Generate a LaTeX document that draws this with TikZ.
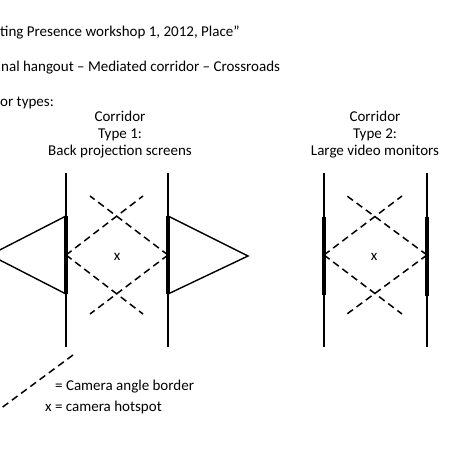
\documentclass[tikz,border=0pt]{standalone}
\usepackage{fontspec}
\setmainfont{Carlito}
\begin{document}
\begin{tikzpicture}[x=1pt,y=-1pt,
  txt/.style={inner sep=0pt,font=\fontsize{15}{17}\selectfont},
  wall/.style={line width=1.4pt},
  screen/.style={line width=3.6pt},
  cam/.style={line width=1.5pt,dash pattern=on 7pt off 4.5pt},
  proj/.style={line width=1.4pt,line join=miter}]
\useasboundingbox (0,0) rectangle (450,450);
\clip (0,0) rectangle (450,450);
% header texts
\node[txt,anchor=west] (t1) at (0,32) {ting Presence workshop 1, 2012, Place”};
\node[txt,anchor=west] (t2) at (1,68) {nal hangout – Mediated corridor – Crossroads};
\node[txt,anchor=west] (t3) at (0,103) {or types:};
% corridor labels
\node[txt,align=center] (c1) at (120,135) {Corridor\\Type 1:\\Back projection screens};
\node[txt,align=center] (c2) at (375,135) {Corridor\\Type 2:\\Large video monitors};
% ---- Corridor 1 ----
\coordinate (l1t) at (66,173); \coordinate (l1b) at (66,347);
\coordinate (r1t) at (168,173); \coordinate (r1b) at (168,347);
\draw[wall] (l1t) -- (l1b);
\draw[wall] (r1t) -- (r1b);
\coordinate (l1s) at (66,216); \coordinate (l1e) at (66,294);
\coordinate (r1s) at (168,216); \coordinate (r1e) at (168,294);
\draw[screen] (l1s) -- (l1e);
\draw[screen] (r1s) -- (r1e);
\coordinate (pl) at (-10,255); \coordinate (pr) at (248,256);
\draw[proj] (l1s) -- (pl) -- (l1e);
\draw[proj] (r1s) -- (pr) -- (r1e);
\coordinate (v1l) at (66,255); \coordinate (v1r) at (168,255);
\coordinate (e1a) at (143,196); \coordinate (e1b) at (90,196);
\coordinate (e1c) at (143,314); \coordinate (e1d) at (90,314);
\draw[cam] (v1l) -- (e1a);
\draw[cam] (v1r) -- (e1b);
\draw[cam] (v1l) -- (e1c);
\draw[cam] (v1r) -- (e1d);
\node[txt] (x1) at (117,257) {x};
% ---- Corridor 2 ----
\coordinate (l2t) at (324,173); \coordinate (l2b) at (324,347);
\coordinate (r2t) at (427,173); \coordinate (r2b) at (427,347);
\draw[wall] (l2t) -- (l2b);
\draw[wall] (r2t) -- (r2b);
\coordinate (l2s) at (324,217); \coordinate (l2e) at (324,295);
\coordinate (r2s) at (427,217); \coordinate (r2e) at (427,296);
\draw[screen] (l2s) -- (l2e);
\draw[screen] (r2s) -- (r2e);
\coordinate (v2l) at (324,255); \coordinate (v2r) at (427,255);
\coordinate (e2a) at (402,196); \coordinate (e2b) at (347,196);
\coordinate (e2c) at (402,314); \coordinate (e2d) at (347,314);
\draw[cam] (v2l) -- (e2a);
\draw[cam] (v2r) -- (e2b);
\draw[cam] (v2l) -- (e2c);
\draw[cam] (v2r) -- (e2d);
\node[txt] (x2) at (374,257) {x};
% ---- legend ----
\coordinate (lg1) at (73,355); \coordinate (lg2) at (0,409);
\draw[cam] (lg1) -- (lg2);
\node[txt,anchor=west] (lgA) at (55,387) {= Camera angle border};
\node[txt,anchor=west] (lgB) at (45,407) {x = camera hotspot};
\end{tikzpicture}
\end{document}
